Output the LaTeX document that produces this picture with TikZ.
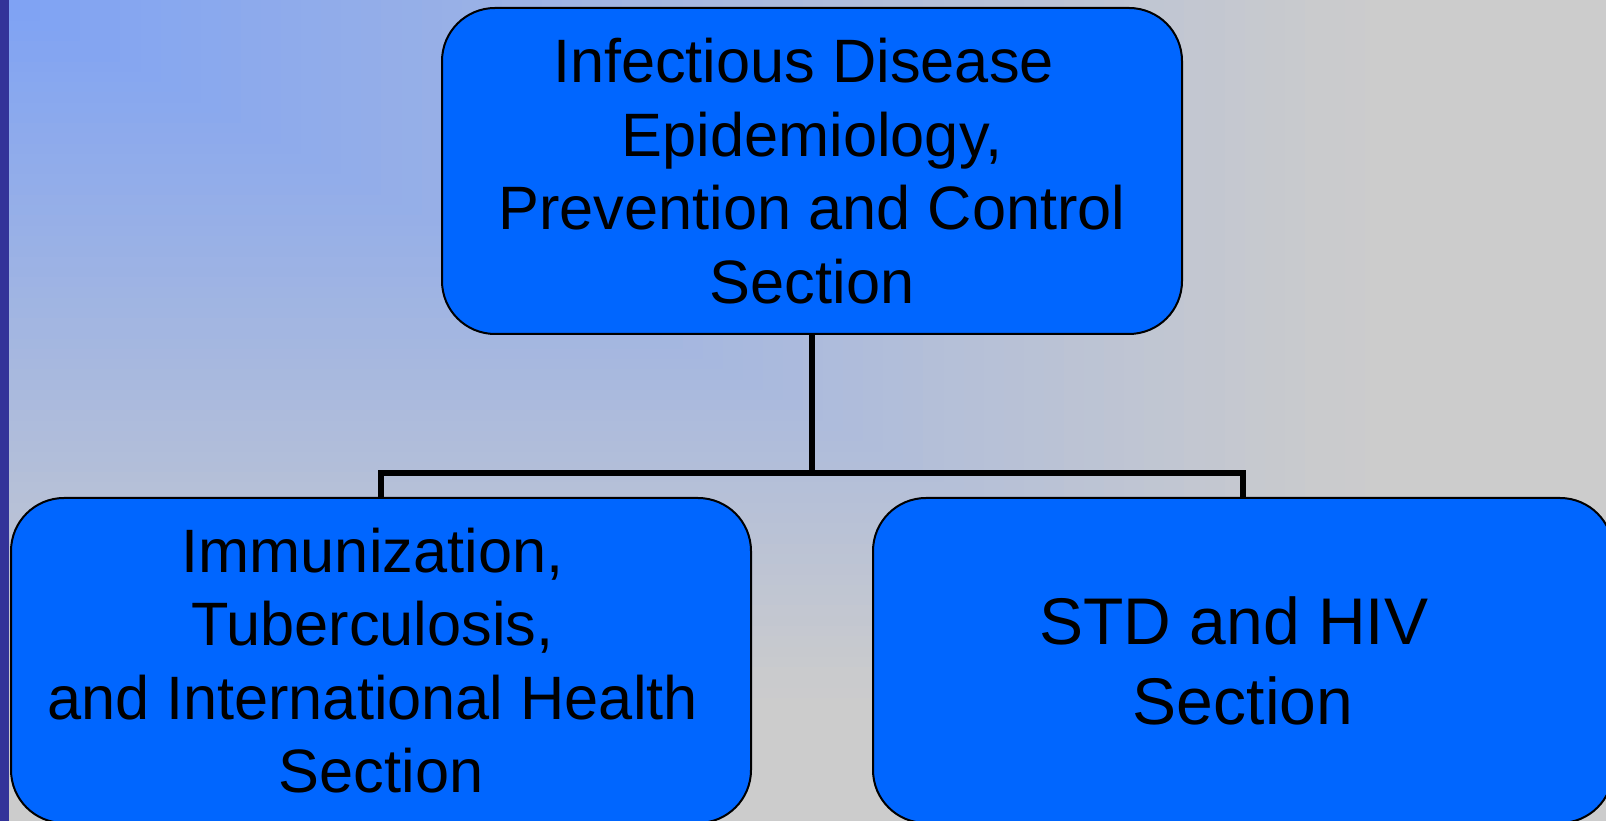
\documentclass[tikz,border=0pt]{standalone}
\usepackage{fontspec}
\setmainfont{Liberation Sans}
\definecolor{bgblue}{HTML}{7EA2F4}
\definecolor{bggrey}{HTML}{CCCCCC}
\definecolor{barcol}{HTML}{333399}
\definecolor{boxblue}{HTML}{0066FF}
\newcommand\trsp{\hbox to 0.278em{}}
\tikzset{
  orgbox/.style={draw=black, line width=2pt, fill=boxblue, rounded corners=53pt,
    minimum width=740pt, inner sep=0pt, align=center, text=black},
  topfont/.style={font=\fontsize{61.3}{73.5}\selectfont},
  bigfont/.style={font=\fontsize{66}{80}\selectfont},
  conn/.style={draw=black, line width=6pt}
}
\begin{document}
\begin{tikzpicture}[x=1pt,y=1pt]
\useasboundingbox (0,0) rectangle (1606,821);
\clip (0,0) rectangle (1606,821);
% background gradient from top-left corner
\foreach \i in {80,79,...,1}{
  \pgfmathtruncatemacro{\p}{min(100,\i/80/0.85*100)}
  \fill[bggrey!\p!bgblue] (0,821) rectangle ({\i/80*1606},{821-\i/80*821});
}
\fill[barcol] (0,0) rectangle (9,821);
% boxes
\node[orgbox, topfont, minimum height=326pt] (top) at (812,650)
  {Infectious Disease\trsp\\Epidemiology,\\Prevention and Control\\Section};
\node[orgbox, topfont, minimum height=325pt] (left) at (381,160.5)
  {Immunization,\trsp\\Tuberculosis,\trsp\\and International Health\trsp\\Section};
\node[orgbox, bigfont, minimum height=325pt] (right) at (1243,160.5)
  {STD and HIV\trsp\\Section};
% connectors
\coordinate (junc) at (812,348);
\draw[conn] (top.south) -- (junc);
\draw[conn] (left.north) |- (junc) -| (right.north);
\end{tikzpicture}
\end{document}
